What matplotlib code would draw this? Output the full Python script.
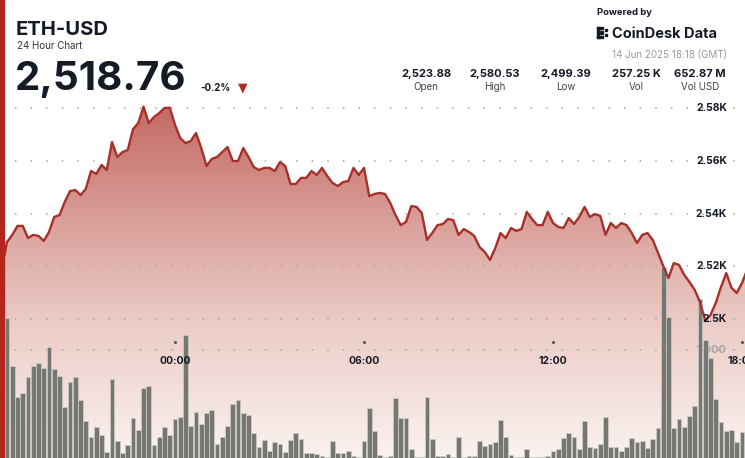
import numpy as np
import matplotlib.pyplot as plt
from matplotlib.patches import Rectangle, Polygon

plt.rcParams['font.family'] = ['Inter', 'DejaVu Sans']

# 10-minute closes, 18:30 (13 Jun) -> 18:10 (14 Jun)
prices = [
    2519.3, 2529.2, 2531.9, 2535.3, 2535.3, 2530.7, 2531.9, 2531.5, 2529.6, 2533.0,
    2538.7, 2539.4, 2544.4, 2548.5, 2548.9, 2547.0, 2549.3, 2556.1, 2555.0, 2558.4,
    2556.5, 2567.1, 2561.4, 2563.3, 2564.1, 2572.0, 2574.3, 2580.5, 2574.3, 2576.6,
    2578.1, 2580.0, 2580.1, 2573.6, 2568.6, 2566.7, 2567.5, 2570.5, 2564.8, 2558.0,
    2560.7, 2561.4, 2563.3, 2565.2, 2559.9, 2559.9, 2564.8, 2561.4, 2557.6, 2556.5,
    2557.3, 2557.3, 2556.1, 2559.5, 2558.0, 2551.2, 2551.2, 2553.5, 2553.5, 2556.1,
    2554.6, 2557.3, 2554.2, 2551.6, 2550.4, 2551.9, 2552.3, 2557.3, 2554.6, 2557.3,
    2546.6, 2547.4, 2547.8, 2547.4, 2544.0, 2539.4, 2535.6, 2536.8, 2542.8, 2542.5,
    2540.2, 2530.0, 2532.6, 2535.6, 2536.0, 2537.9, 2537.5, 2531.9, 2534.1, 2533.0,
    2531.5, 2527.3, 2525.4, 2522.4, 2526.9, 2532.6, 2530.7, 2534.5, 2533.4, 2534.1,
    2540.6, 2537.9, 2535.6, 2535.6, 2540.6, 2536.4, 2534.9, 2534.5, 2538.3, 2536.0,
    2538.7, 2542.5, 2538.7, 2539.8, 2539.1, 2531.9, 2536.4, 2534.5, 2536.4, 2535.6,
    2532.6, 2528.8, 2531.9, 2532.6, 2530.0, 2525.0, 2520.1, 2515.5, 2521.2, 2520.5,
    2516.7, 2514.0, 2511.0, 2506.4, 2499.4, 2501.5, 2506.1, 2512.1, 2517.4, 2511.8,
    2509.9, 2513.6, 2518.8,
]

# 10-minute volumes (ETH)
volumes = [
    1296, 852, 565, 602, 750, 852, 880, 833, 1028, 824,
    759, 472, 704, 750, 537, 343, 194, 287, 213, 56,
    732, 157, 46, 120, 370, 259, 648, 667, 120, 194,
    287, 213, 361, 380, 1139, 296, 426, 315, 417, 444,
    130, 194, 296, 500, 537, 417, 398, 232, 102, 167,
    65, 148, 130, 56, 167, 232, 176, 46, 46, 37,
    19, 9, 157, 46, 46, 65, 19, 9, 157, 463,
    250, 28, 9, 19, 556, 370, 370, 83, 9, 9,
    565, 176, 19, 19, 37, 9, 194, 9, 19, 19,
    157, 111, 130, 148, 352, 194, 28, 9, 9, 83,
    9, 9, 9, 19, 65, 83, 185, 232, 194, 83,
    343, 102, 93, 130, 380, 102, 102, 65, 102, 185,
    148, 157, 93, 176, 278, 1769, 1306, 278, 361, 287,
    389, 482, 1472, 1093, 926, 546, 333, 250, 259, 148,
    241, 222,
]

price_ticks = [2580, 2560, 2540, 2520, 2500]
price_tick_labels = ['2.58K', '2.56K', '2.54K', '2.52K', '2.5K']
vol_tick = 1000
vol_tick_label = '1,000'
hour_ticks = [0, 6, 12, 18]
hour_labels = ['00:00', '06:00', '12:00', '18:00']
stat_values = ['2,523.88', '2,580.53', '2,499.39', '257.25 K', '652.87 M']
stat_names = ['Open', 'High', 'Low', 'Vol', 'Vol USD']

W, H = 745, 458
X0, X1 = -5.556, 18.095          # hours relative to midnight
Y0, Y1 = 2447.3, 2620.95         # price range of the full canvas
VOL_TOP = 4241

DARK = '#141a26'
RED = '#a8302a'


def fx(px):
    return px / W


def fy(py):
    return 1 - py / H


fig = plt.figure(figsize=(W / 100, H / 100), dpi=100)
ax = fig.add_axes([0, 0, 1, 1])
ax.set_axis_off()

t = -5.5 + np.arange(len(prices)) / 6
tv = -5.5 + (np.arange(len(volumes)) + 1) / 6

# gradient area under the price line
rows = np.arange(H)
stops_y = [100, 160, 213, 266, 330, 458]
stops_c = np.array([[196, 104, 98], [206, 130, 124], [216, 155, 150],
                    [226, 180, 175], [237, 206, 201], [250, 243, 240]]) / 255
grad = np.stack([np.interp(rows, stops_y, stops_c[:, k]) for k in range(3)], axis=1)
im = ax.imshow(grad[:, None, :], extent=[X0, X1, Y0, Y1], origin='upper',
               aspect='auto', zorder=1)
area = Polygon(np.column_stack([np.r_[t[0], t, t[-1]], np.r_[Y0, prices, Y0]]),
               facecolor='none', edgecolor='none')
ax.add_patch(area)
im.set_clip_path(area)

# dotted grid
for p in price_ticks:
    ax.axhline(p, color='#a9a9a9', lw=1.3, linestyle=(0, (0.05, 8.6)),
               dash_capstyle='round', zorder=2)
ax.plot([X0, X1], [vol_tick / VOL_TOP] * 2, transform=ax.get_xaxis_transform(),
        color='#a9a9a9', lw=1.3, linestyle=(0, (0.05, 8.6)),
        dash_capstyle='round', zorder=2)
ax.text(fx(727), vol_tick / VOL_TOP, vol_tick_label, transform=ax.transAxes,
        ha='right', va='center', fontsize=8, fontweight='bold', color='#a5a5a5', zorder=2.5)

# volume bars
ax.bar(tv, np.array(volumes) / VOL_TOP, width=0.9 / 6, bottom=0,
       transform=ax.get_xaxis_transform(), color='#767672',
       edgecolor='#cfcfcb', linewidth=0.5, zorder=3)

# price line
ax.plot(t, prices, color=RED, lw=1.7, solid_joinstyle='round', zorder=4)

# price labels
for p, lab in zip(price_ticks, price_tick_labels):
    ax.text(fx(727), p, lab, transform=ax.get_yaxis_transform(), ha='right',
            va='center', fontsize=7.5, fontweight='bold', color=DARK, zorder=6)

# time labels
for h, lab in zip(hour_ticks, hour_labels):
    ax.plot(h, fy(342), marker='o', ms=1.2, color='#555555',
            transform=ax.get_xaxis_transform(), zorder=6)
    ax.text(h, fy(361), lab, transform=ax.get_xaxis_transform(), ha='center',
            va='center', fontsize=7.5, fontweight='bold', color=DARK, zorder=6)

ax.set_xlim(X0, X1)
ax.set_ylim(Y0, Y1)

# left accent bar
fig.add_artist(Rectangle((0, 0), fx(4), 1, transform=fig.transFigure,
                         color='#b3261e', zorder=10))

# header
fig.text(fx(16), fy(35), 'ETH-USD', fontsize=14.5, fontweight='bold', color=DARK, va='baseline')
fig.text(fx(17), fy(49), '24 Hour Chart', fontsize=7, color='#333333', va='baseline')
fig.text(fx(15), fy(90), '2,518.76', fontsize=29, fontweight='bold', color=DARK, va='baseline')
fig.text(fx(200), fy(91), '-0.2%', fontsize=7, fontweight='bold', color=DARK, va='baseline')
fig.text(fx(243), fy(88), '▼', fontsize=9, color='#b22d1e', ha='center', va='center',
         family='DejaVu Sans')

stat_x = [426, 495, 566, 636, 700]
for sx, val, name in zip(stat_x, stat_values, stat_names):
    fig.text(fx(sx), fy(77), val, fontsize=8, fontweight='bold', color=DARK,
             ha='center', va='baseline')
    fig.text(fx(sx), fy(90), name, fontsize=7, color='#444444', ha='center', va='baseline')

fig.text(fx(597), fy(15), 'Powered by', fontsize=6.8, fontweight='bold', color=DARK, va='baseline')
fig.text(fx(612), fy(38), 'CoinDesk Data', fontsize=10.5, fontweight='bold', color=DARK,
         va='baseline')
fig.text(fx(727), fy(58), '14 Jun 2025 18:18 (GMT)', fontsize=7, color='#9a9a9a',
         ha='right', va='baseline')

# logo glyph
for (lx, ly, lw_, lh) in [(597, 27, 2, 11), (597, 27, 6, 2), (597, 36, 6, 2),
                          (600, 31.5, 3, 2), (605, 29, 2, 2), (605, 34, 2, 2)]:
    fig.add_artist(Rectangle((fx(lx), fy(ly + lh)), lw_ / W, lh / H,
                             transform=fig.transFigure, color=DARK))

fig.savefig('out.png', dpi=100)
